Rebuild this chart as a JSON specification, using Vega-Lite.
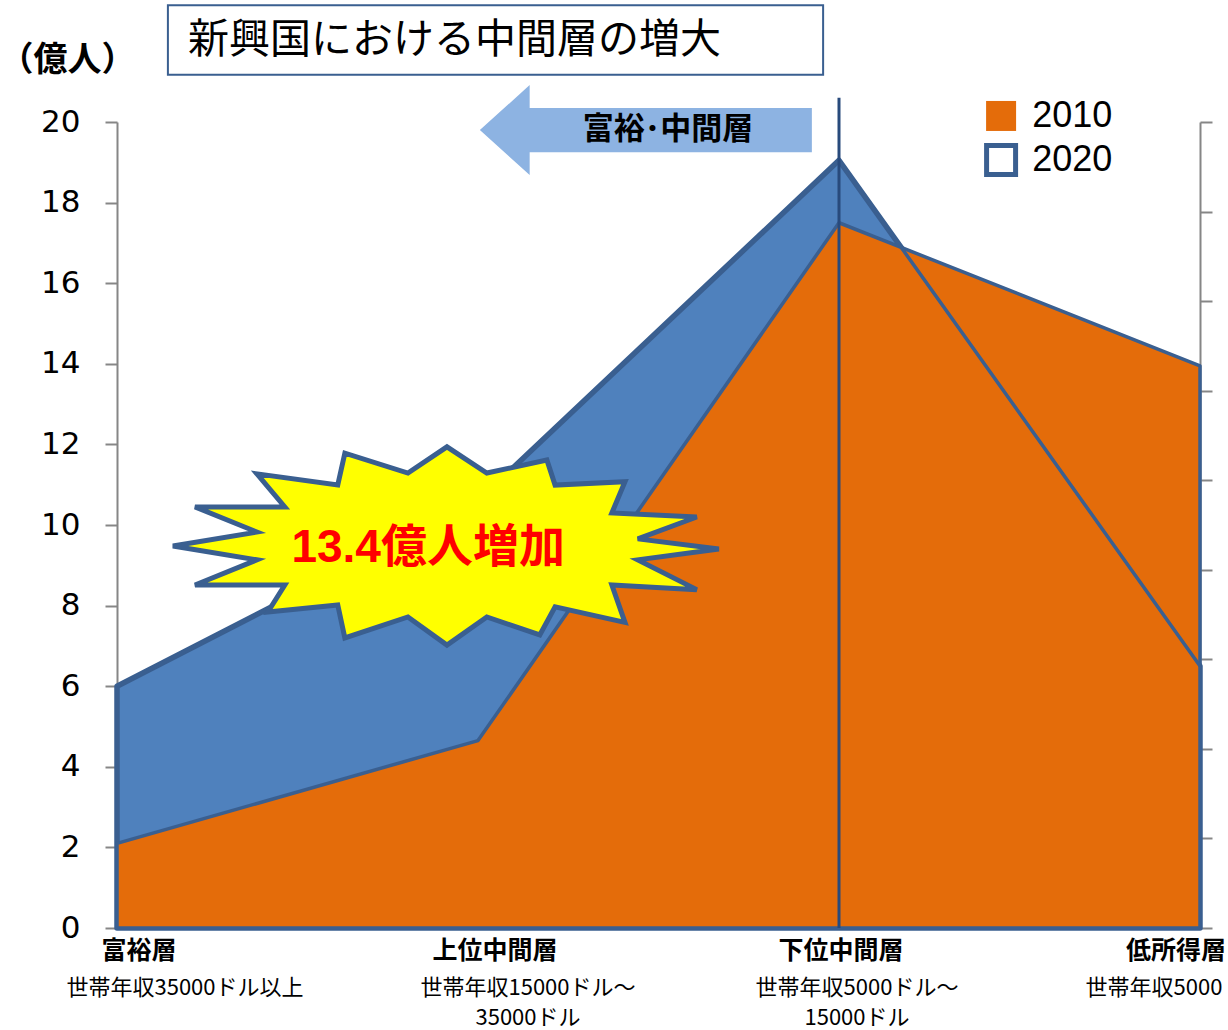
{
  "$schema": "https://vega.github.io/schema/vega-lite/v6.json",
  "width": 1083,
  "height": 806,
  "autosize": {"type": "none"},
  "padding": {"left": 117, "top": 122, "right": 28, "bottom": 102},
  "background": "white",
  "config": {"view": {"stroke": null}},
  "layer": [
    {
      "layer": [
        {
          "data": {"values": [
            {"i": 0, "cat": "富裕層", "y2010": 2.1, "y2020": 6.0},
            {"i": 1, "cat": "上位中間層", "y2010": 4.65, "y2020": 10.6},
            {"i": 2, "cat": "下位中間層", "y2010": 17.5, "y2020": 19.05},
            {"i": 3, "cat": "低所得層", "y2010": 13.95, "y2020": 6.5}
          ]},
          "layer": [
            {
              "mark": {"type": "area", "fill": "#4f81bd", "stroke": "#3a5f90", "strokeWidth": 5.5, "strokeJoin": "round"},
              "encoding": {
                "x": {"field": "i", "type": "quantitative", "scale": {"domain": [0, 3], "nice": false, "zero": false}, "axis": null},
                "y": {"field": "y2020", "type": "quantitative", "scale": {"domain": [0, 20], "nice": false},
                  "axis": {"orient": "left", "values": [0, 2, 4, 6, 8, 10, 12, 14, 16, 18, 20], "grid": false,
                    "domainColor": "#868686", "domainWidth": 2, "tickColor": "#868686", "tickWidth": 2, "tickSize": 12,
                    "labelFont": "DejaVu Sans", "labelFontSize": 31, "labelColor": "#000000", "labelPadding": 25,
                    "title": "（億人）", "titleAngle": 0, "titleX": -50, "titleY": -62, "titleAlign": "center", "titleBaseline": "middle",
                    "titleFont": "Noto Sans CJK JP", "titleFontSize": 34, "titleFontWeight": "bold", "titleColor": "#000000"}}
              }
            },
            {
              "mark": {"type": "area", "fill": "#e46c0a", "stroke": "#3a5f90", "strokeWidth": 3.5, "strokeJoin": "round"},
              "encoding": {
                "x": {"field": "i", "type": "quantitative"},
                "y": {"field": "y2010", "type": "quantitative"}
              }
            },
            {
              "mark": {"type": "line", "stroke": "#3a5f90", "strokeWidth": 3.5},
              "encoding": {
                "x": {"field": "i", "type": "quantitative"},
                "y": {"field": "y2020", "type": "quantitative"}
              }
            },
            {
              "mark": {"type": "text", "font": "Noto Sans CJK JP", "fontSize": 25, "fontWeight": "bold", "color": "#000000", "baseline": "middle", "align": "center",
                "dx": {"expr": "datum.i == 0 ? 22 : datum.i == 1 ? 17 : datum.i == 2 ? 2 : -24"}},
              "encoding": {
                "x": {"field": "i", "type": "quantitative"},
                "y": {"datum": -0.57},
                "text": {"field": "cat"}
              }
            }
          ]
        },
        {
          "data": {"values": [
            {"i": 0, "sub": "世帯年収35000ドル以上"},
            {"i": 1, "sub": "世帯年収15000ドル～\n35000ドル"},
            {"i": 2, "sub": "世帯年収5000ドル～\n15000ドル"},
            {"i": 3, "sub": "世帯年収5000ドル未満"}
          ]},
          "mark": {"type": "text", "font": "Noto Sans CJK JP", "fontSize": 22, "color": "#000000", "baseline": "top", "align": "center", "lineBreak": "\n", "lineHeight": 30,
            "dx": {"expr": "datum.i == 0 ? 68 : datum.i == 1 ? 50 : datum.i == 2 ? 18 : -2"}},
          "encoding": {
            "x": {"field": "i", "type": "quantitative"},
            "y": {"datum": -1.24},
            "text": {"field": "sub"}
          }
        },
        {
          "data": {"values": [{"t": ""}]},
          "mark": {"type": "rule", "stroke": "#284a7c", "strokeWidth": 3},
          "encoding": {"x": {"datum": 2}, "y": {"datum": 0}, "y2": {"datum": 20.6}}
        },
        {
          "data": {"values": [{"t": "富裕･中間層"}]},
          "layer": [
            {
              "mark": {"type": "point", "shape": "M-1,0L-0.7,-0.271L-0.7,-0.133L1,-0.133L1,0.133L-0.7,0.133L-0.7,0.271Z", "size": 110224, "fill": "#8db3e2", "filled": true, "opacity": 1, "strokeWidth": 0},
              "encoding": {"x": {"datum": 1.465}, "y": {"datum": 19.8}}
            },
            {
              "mark": {"type": "text", "font": "Noto Sans CJK JP", "fontSize": 31, "fontWeight": "bold", "color": "#000000", "align": "center", "baseline": "middle"},
              "encoding": {"x": {"datum": 1.526}, "y": {"datum": 19.8}, "text": {"field": "t"}}
            }
          ]
        },
        {
          "data": {"values": [{"t": "13.4億人増加"}]},
          "layer": [
            {
              "mark": {"type": "point", "shape": "M-1,0L-0.692,-0.051L-0.919,-0.143L-0.59,-0.143L-0.692,-0.264L-0.396,-0.223L-0.37,-0.34L-0.139,-0.267L0.004,-0.363L0.15,-0.267L0.37,-0.315L0.4,-0.223L0.656,-0.235L0.608,-0.121L0.919,-0.106L0.703,-0.026L1,0.011L0.703,0.051L0.919,0.16L0.608,0.143L0.656,0.28L0.4,0.223L0.344,0.326L0.15,0.26L0.004,0.363L-0.139,0.26L-0.37,0.337L-0.396,0.216L-0.652,0.242L-0.59,0.143L-0.919,0.143L-0.692,0.051Z",
                "size": 298116, "fill": "#ffff00", "filled": true, "stroke": "#3a5f90", "strokeWidth": 5, "opacity": 1, "strokeJoin": "miter"},
              "encoding": {"x": {"datum": 0.911}, "y": {"datum": 9.48}}
            },
            {
              "mark": {"type": "text", "font": "Liberation Sans, Noto Sans CJK JP", "fontSize": 46, "fontWeight": "bold", "color": "#ff0000", "align": "center", "baseline": "middle"},
              "encoding": {"x": {"datum": 0.862}, "y": {"datum": 9.43}, "text": {"field": "t"}}
            }
          ]
        },
        {
          "data": {"values": [{"t": "新興国における中間層の増大"}]},
          "layer": [
            {
              "mark": {"type": "rect", "fill": "#ffffff", "stroke": "#3a5f90", "strokeWidth": 2},
              "encoding": {"x": {"datum": 0.141}, "x2": {"datum": 1.956}, "y": {"datum": 22.9}, "y2": {"datum": 21.17}}
            },
            {
              "mark": {"type": "text", "font": "Noto Sans CJK JP", "fontSize": 41, "color": "#000000", "align": "left", "baseline": "middle"},
              "encoding": {"x": {"datum": 0.197}, "y": {"datum": 22.0}, "text": {"field": "t"}}
            }
          ]
        },
        {
          "data": {"values": [{"yr": "2010"}, {"yr": "2020"}]},
          "layer": [
            {
              "transform": [{"filter": "datum.yr == '2010'"}],
              "mark": {"type": "point", "shape": "square", "size": 900, "filled": true, "fill": "#e46c0a", "opacity": 1, "strokeWidth": 0},
              "encoding": {"x": {"datum": 2.449}, "y": {"datum": 20.15}}
            },
            {
              "transform": [{"filter": "datum.yr == '2020'"}],
              "mark": {"type": "point", "shape": "square", "size": 841, "filled": true, "fill": "#ffffff", "stroke": "#3a5f90", "strokeWidth": 5, "opacity": 1},
              "encoding": {"x": {"datum": 2.449}, "y": {"datum": 19.06}}
            },
            {
              "transform": [{"filter": "datum.yr == '2010'"}],
              "mark": {"type": "text", "font": "Liberation Sans", "fontSize": 36, "color": "#000000", "align": "left", "baseline": "middle"},
              "encoding": {"x": {"datum": 2.535}, "y": {"datum": 20.15}, "text": {"field": "yr"}}
            },
            {
              "transform": [{"filter": "datum.yr == '2020'"}],
              "mark": {"type": "text", "font": "Liberation Sans", "fontSize": 36, "color": "#000000", "align": "left", "baseline": "middle"},
              "encoding": {"x": {"datum": 2.535}, "y": {"datum": 19.06}, "text": {"field": "yr"}}
            }
          ]
        }
      ]
    },
    {
      "data": {"values": [{"r": 0}, {"r": 9}]},
      "mark": {"type": "point", "opacity": 0},
      "encoding": {
        "x": {"datum": 3},
        "y": {"field": "r", "type": "quantitative", "scale": {"domain": [0, 9], "nice": false},
          "axis": {"orient": "right", "values": [0, 1, 2, 3, 4, 5, 6, 7, 8, 9], "labels": false, "grid": false, "title": null,
            "domainColor": "#868686", "domainWidth": 2, "tickColor": "#868686", "tickWidth": 2, "tickSize": 12}}
      }
    }
  ],
  "resolve": {"scale": {"y": "independent"}, "axis": {"y": "independent"}}
}
